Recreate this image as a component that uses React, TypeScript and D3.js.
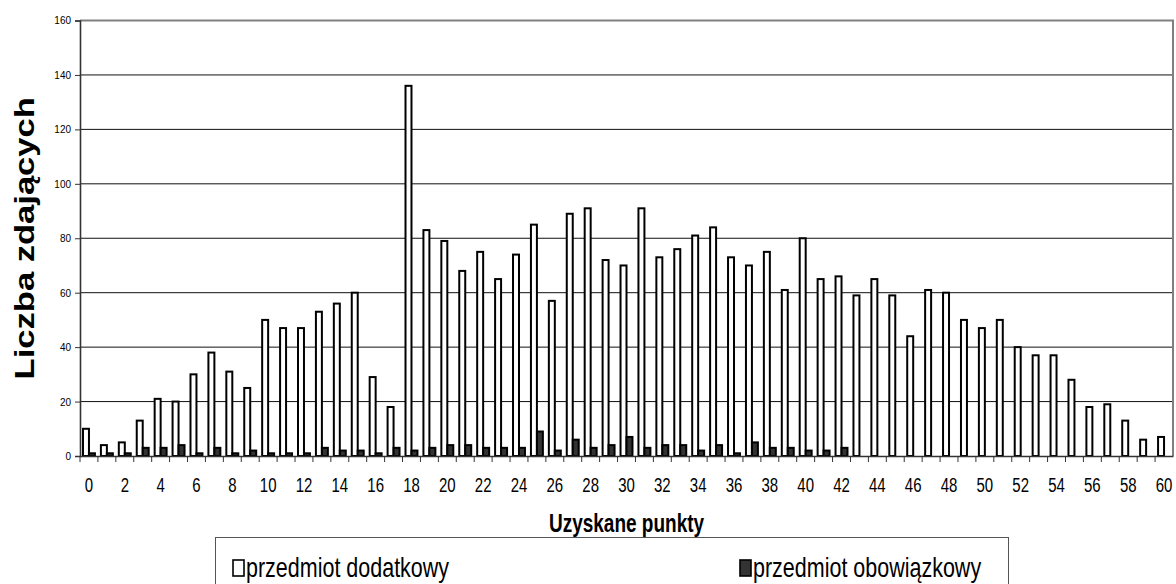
import * as d3 from "d3";
import { useEffect, useRef } from "react";

const points = d3.range(0, 61).map(String);
const dodatkowy = [
    10, 4, 5, 13, 21, 20, 30, 38, 31, 25,
    50, 47, 47, 53, 56, 60, 29, 18, 136, 83,
    79, 68, 75, 65, 74, 85, 57, 89, 91, 72,
    70, 91, 73, 76, 81, 84, 73, 70, 75, 61,
    80, 65, 66, 59, 65, 59, 44, 61, 60, 50,
    47, 50, 40, 37, 37, 28, 18, 19, 13, 6, 7];
const obowiazkowy = [
    1, 1, 1, 3, 3, 4, 1, 3, 1, 2,
    1, 1, 1, 3, 2, 2, 1, 3, 2, 3,
    4, 4, 3, 3, 3, 9, 2, 6, 3, 4,
    7, 3, 4, 4, 2, 4, 1, 5, 3, 3,
    2, 2, 3, 0, 0, 0, 0, 0, 0, 0,
    0, 0, 0, 0, 0, 0, 0, 0, 0, 0, 0];
const seriesNames = ["przedmiot dodatkowy", "przedmiot obowiązkowy"];
const seriesFill = ["#ffffff", "#333333"];
const yTicks = [0, 20, 40, 60, 80, 100, 120, 140, 160];

export default function App() {
    const ref = useRef(null);

    const width = 1176,
        height = 584;
    const left = 80, right = 1173, top = 20.5, bottom = 456;
    const font = "'Liberation Sans', Arial, sans-serif";
    // the picture is stretched vertically, so text is drawn narrow and tall
    const stretch = 1.3;

    useEffect(() => {
        const svg = d3.select(ref.current);
        svg.selectAll("*").remove();

        const x = d3.scaleBand().domain(points).range([left, right]).padding(0);
        const inner = d3.scaleBand().domain(seriesNames).range([0, x.bandwidth()])
            .paddingInner(0).paddingOuter(0.5);
        const y = d3.scaleLinear().domain([0, 160]).range([bottom, top]);

        // gridlines
        svg.append("g")
            .selectAll("line")
            .data(yTicks.filter(t => t > 0 && t < 160))
            .join("line")
            .attr("x1", left).attr("x2", right)
            .attr("y1", d => y(d)).attr("y2", d => y(d))
            .attr("stroke", "#111")
            .attr("stroke-width", 1);

        // top / right border
        svg.append("path")
            .attr("d", `M${left},${y(160)}H${right}V${bottom}`)
            .attr("fill", "none")
            .attr("stroke", "#808080")
            .attr("stroke-width", 2);

        // bars
        const data = [dodatkowy, obowiazkowy];
        data.forEach((vals, si) => {
            svg.append("g")
                .selectAll("rect")
                .data(vals)
                .join("rect")
                .filter(d => d > 0)
                .attr("x", (d, i) => x(points[i])! + inner(seriesNames[si])!)
                .attr("y", d => y(d))
                .attr("width", inner.bandwidth())
                .attr("height", d => bottom - y(d))
                .attr("fill", seriesFill[si])
                .attr("stroke", "#000")
                .attr("stroke-width", 2);
        });

        // y axis
        const yAxis = svg.append("g")
            .attr("transform", `translate(${left},0)`)
            .call(d3.axisLeft(y).tickValues(yTicks).tickSize(5).tickPadding(4));
        yAxis.select(".domain").attr("stroke", "#333").attr("stroke-width", 1.6);
        yAxis.selectAll(".tick line").attr("stroke", "#333");
        yAxis.selectAll("text")
            .attr("font-family", font)
            .attr("font-size", 10)
            .attr("fill", "#000")
            .attr("transform", `scale(1,1.15)`)
            .attr("dy", "0.3em");

        // x axis
        const xAxis = svg.append("g")
            .attr("transform", `translate(0,${bottom})`)
            .call(d3.axisBottom(x).tickSize(0).tickFormat(() => ""));
        xAxis.select(".domain").attr("stroke", "#333").attr("stroke-width", 1.6);

        svg.append("g")
            .selectAll("text")
            .data(points.filter((d, i) => i % 2 === 0))
            .join("text")
            .attr("transform", d => `translate(${x(d)! + x.bandwidth() / 2},492) scale(1,${stretch})`)
            .attr("text-anchor", "middle")
            .attr("font-family", font)
            .attr("font-size", 15)
            .text(d => d);

        // x tick marks at band boundaries
        svg.append("g")
            .selectAll("line")
            .data(points)
            .join("line")
            .attr("x1", d => x(d)!).attr("x2", d => x(d)!)
            .attr("y1", bottom).attr("y2", bottom + 6)
            .attr("stroke", "#333");

        // axis titles
        svg.append("text")
            .attr("transform", `translate(${(left + right) / 2},532) scale(1,1.4)`)
            .attr("text-anchor", "middle")
            .attr("font-family", font)
            .attr("font-weight", "bold")
            .attr("font-size", 19)
            .text("Uzyskane punkty");

        svg.append("text")
            .attr("transform", `translate(34,${(top + bottom) / 2}) rotate(-90) scale(1.28,1)`)
            .attr("text-anchor", "middle")
            .attr("font-family", font)
            .attr("font-weight", "bold")
            .attr("font-size", 27)
            .text("Liczba zdających");

        // legend
        const legend = svg.append("g");
        legend.append("rect")
            .attr("x", 215.5).attr("y", 537.5)
            .attr("width", 793).attr("height", 60)
            .attr("fill", "#fff")
            .attr("stroke", "#555");
        const lx = [233, 740];
        seriesNames.forEach((name, i) => {
            legend.append("rect")
                .attr("x", lx[i]).attr("y", 560)
                .attr("width", 11).attr("height", 16)
                .attr("fill", seriesFill[i])
                .attr("stroke", "#000")
                .attr("stroke-width", 1.6);
            legend.append("text")
                .attr("transform", `translate(${lx[i] + 13},577) scale(1,${stretch})`)
                .attr("font-family", font)
                .attr("font-size", 21.5)
                .text(name);
        });
    }, []);

    return (
        <div style={{ position: "absolute", left: 0, top: 0 }}>
            <svg ref={ref} width={width} height={height} style={{ display: "block", background: "#fff" }}>
            </svg>
        </div>
    );
}
